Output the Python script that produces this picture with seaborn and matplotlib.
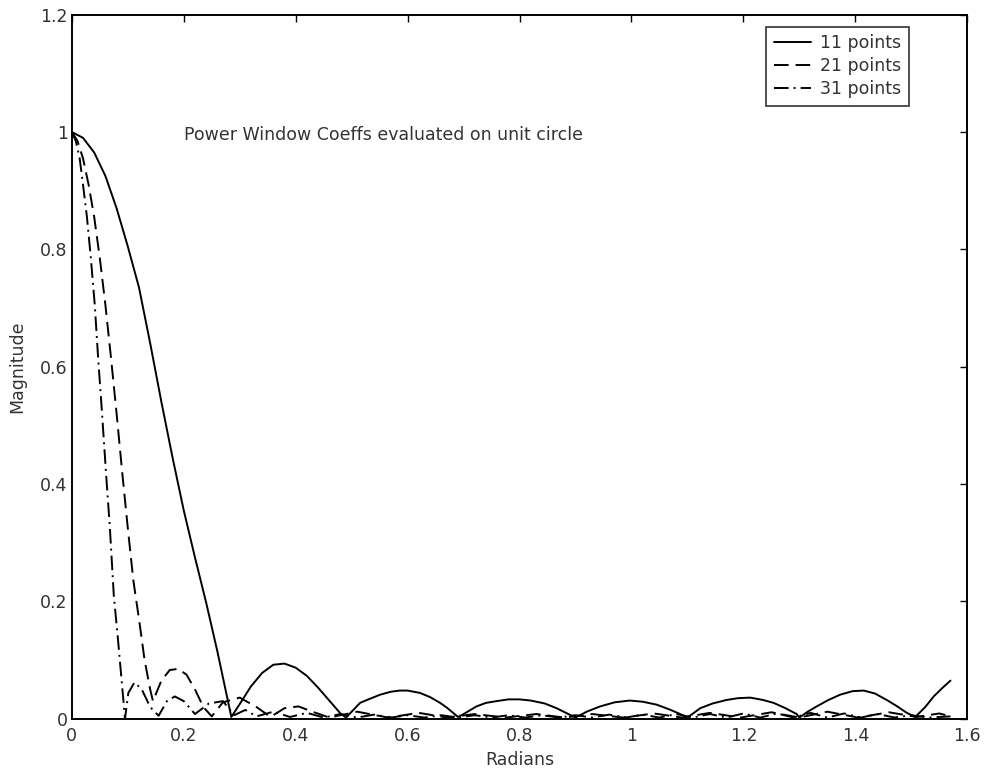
import matplotlib
matplotlib.use("Agg")
import matplotlib.pyplot as plt
import seaborn as sns
import pandas as pd

# Magnitude response of the power-window coefficients (radians vs magnitude)
x11 = [0.0, 0.02, 0.04, 0.06, 0.08, 0.10, 0.12, 0.14, 0.16, 0.18, 0.20, 0.22, 0.24, 0.26, 0.285,
       0.30, 0.32, 0.34, 0.36, 0.38, 0.40, 0.42, 0.44, 0.46, 0.48, 0.49,
       0.50, 0.515, 0.53, 0.551, 0.57, 0.586, 0.60, 0.622, 0.64, 0.658, 0.67, 0.69,
       0.70, 0.723, 0.74, 0.759, 0.78, 0.80, 0.82, 0.845, 0.866, 0.885, 0.90,
       0.92, 0.944, 0.97, 0.997, 1.02, 1.045, 1.07, 1.087, 1.10,
       1.123, 1.145, 1.17, 1.19, 1.212, 1.235, 1.254, 1.275, 1.295, 1.30,
       1.315, 1.331, 1.352, 1.373, 1.395, 1.415, 1.435, 1.456, 1.475, 1.492, 1.507,
       1.525, 1.540, 1.555, 1.570]
y11 = [1.0, 0.99, 0.965, 0.925, 0.87, 0.805, 0.735, 0.64, 0.54, 0.445, 0.355, 0.275, 0.198, 0.115, 0.003,
       0.025, 0.055, 0.078, 0.092, 0.094, 0.087, 0.073, 0.053, 0.031, 0.009, 0.002,
       0.012, 0.027, 0.033, 0.041, 0.046, 0.048, 0.048, 0.044, 0.037, 0.027, 0.019, 0.003,
       0.008, 0.021, 0.027, 0.030, 0.033, 0.033, 0.031, 0.026, 0.018, 0.009, 0.002,
       0.012, 0.021, 0.028, 0.031, 0.029, 0.024, 0.015, 0.008, 0.002,
       0.018, 0.026, 0.032, 0.035, 0.036, 0.032, 0.027, 0.018, 0.008, 0.002,
       0.012, 0.021, 0.032, 0.041, 0.047, 0.048, 0.043, 0.032, 0.021, 0.010, 0.003,
       0.020, 0.038, 0.052, 0.065]

x21 = [0.0, 0.01, 0.02, 0.03, 0.04, 0.05, 0.06, 0.07, 0.08, 0.09, 0.10, 0.11, 0.12, 0.13, 0.14, 0.145,
       0.16, 0.175, 0.19, 0.205, 0.22, 0.235, 0.25,
       0.27, 0.30, 0.33, 0.355,
       0.38, 0.405, 0.43, 0.46,
       0.51, 0.565, 0.62, 0.67, 0.72, 0.775, 0.83, 0.88, 0.93, 0.985,
       1.04, 1.09, 1.14, 1.195, 1.25, 1.30, 1.35, 1.405, 1.46, 1.51, 1.55, 1.57]
y21 = [1.0, 0.985, 0.955, 0.91, 0.855, 0.785, 0.705, 0.615, 0.52, 0.42, 0.325, 0.235, 0.17, 0.10, 0.05, 0.03,
       0.065, 0.083, 0.085, 0.075, 0.05, 0.02, 0.004,
       0.028, 0.036, 0.02, 0.003,
       0.018, 0.021, 0.012, 0.002,
       0.012, 0.002, 0.010, 0.002, 0.008, 0.002, 0.008, 0.002, 0.008, 0.002,
       0.009, 0.002, 0.010, 0.002, 0.011, 0.002, 0.012, 0.002, 0.011, 0.003, 0.009, 0.004]

x31 = [0.0, 0.007, 0.014, 0.02, 0.027, 0.034, 0.041, 0.047, 0.054, 0.061, 0.068, 0.075, 0.082, 0.089, 0.095,
       0.101, 0.112, 0.125, 0.14, 0.155,
       0.17, 0.184, 0.20, 0.22,
       0.245, 0.27, 0.29,
       0.31, 0.33, 0.36, 0.39, 0.42, 0.45, 0.48, 0.51, 0.54, 0.57, 0.60, 0.63, 0.66, 0.69,
       0.72, 0.75, 0.78, 0.81, 0.84, 0.87, 0.90, 0.93, 0.96, 0.99, 1.02, 1.05, 1.08,
       1.11, 1.14, 1.17, 1.20, 1.23, 1.26, 1.29, 1.32, 1.35, 1.38, 1.41, 1.44, 1.47, 1.50, 1.53, 1.57]
y31 = [1.0, 0.985, 0.955, 0.91, 0.855, 0.785, 0.705, 0.615, 0.52, 0.42, 0.325, 0.21, 0.14, 0.065, 0.0,
       0.044, 0.062, 0.05, 0.02, 0.005,
       0.03, 0.038, 0.03, 0.008,
       0.026, 0.03, 0.006,
       0.015, 0.004, 0.012, 0.003, 0.010, 0.002, 0.008, 0.002, 0.007, 0.002, 0.006, 0.002, 0.006, 0.002,
       0.006, 0.002, 0.006, 0.002, 0.006, 0.002, 0.006, 0.002, 0.007, 0.002, 0.007, 0.002, 0.008,
       0.002, 0.008, 0.002, 0.009, 0.002, 0.009, 0.002, 0.010, 0.002, 0.009, 0.002, 0.008, 0.002, 0.006, 0.002, 0.004]

labels = ["11 points", "21 points", "31 points"]
xs = [x11, x21, x31]
ys = [y11, y21, y31]

frames = [pd.DataFrame({"Radians": x, "Magnitude": y, "series": lab})
          for x, y, lab in zip(xs, ys, labels)]
df = pd.concat(frames, ignore_index=True)

sns.set_theme(style="white")
plt.rcParams["font.family"] = ["DejaVu Sans"]
FS = 12.5
TXT = "#333333"

fig = plt.figure(figsize=(9.84, 7.72), dpi=100)
ax = fig.add_axes([0.073, 0.069, 0.910, 0.912])

LW = 1.4
sns.lineplot(data=df, x="Radians", y="Magnitude", hue="series", style="series",
             palette=["black", "black", "black"],
             dashes=[(None, None), (7.5, 3.6), (7.5, 2.6, 1.0, 2.6)],
             linewidth=LW, sort=False, estimator=None, ax=ax)

ax.set_xlim(0, 1.6)
ax.set_ylim(0, 1.2)
ax.set_xticks([0, 0.2, 0.4, 0.6, 0.8, 1, 1.2, 1.4, 1.6])
ax.set_xticklabels(["0", "0.2", "0.4", "0.6", "0.8", "1", "1.2", "1.4", "1.6"])
ax.set_yticks([0, 0.2, 0.4, 0.6, 0.8, 1, 1.2])
ax.set_yticklabels(["0", "0.2", "0.4", "0.6", "0.8", "1", "1.2"])
ax.tick_params(direction="in", top=True, right=True, length=5, width=1.0,
               labelsize=FS, labelcolor=TXT, color="black")
ax.tick_params(axis="x", pad=6)
ax.tick_params(axis="y", pad=3)
for sp in ax.spines.values():
    sp.set_color("black")
    sp.set_linewidth(1.4)

ax.set_xlabel("Radians", fontsize=FS, color=TXT, labelpad=4)
ax.set_ylabel("Magnitude", fontsize=FS, color=TXT, labelpad=10)

ax.text(0.2, 0.995, "Power Window Coeffs evaluated on unit circle",
        fontsize=FS, color=TXT, ha="left", va="center")

leg = ax.legend(title=None, loc="upper right", bbox_to_anchor=(0.935, 0.983),
                borderaxespad=0, frameon=True, fancybox=False, fontsize=FS,
                handlelength=2.1, handletextpad=0.55, labelspacing=0.28,
                borderpad=0.45)
leg.get_frame().set_edgecolor("black")
leg.get_frame().set_linewidth(1.2)
for t in leg.get_texts():
    t.set_color(TXT)

fig.savefig("out.png", dpi=100)
